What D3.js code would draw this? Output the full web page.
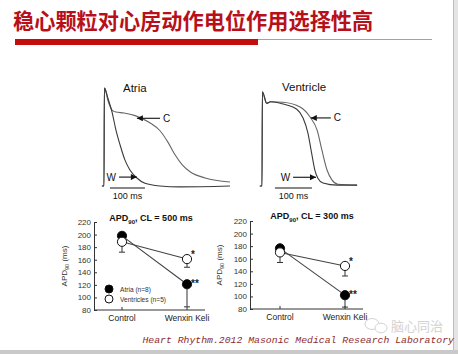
<!DOCTYPE html>
<html><head><meta charset="utf-8">
<script src="https://cdn.jsdelivr.net/npm/d3@7"></script>
<style>html,body{margin:0;padding:0;background:#fff;overflow:hidden}</style>
</head><body>
<svg id="c" width="458" height="354"></svg>
<script>
// ---------- data ----------
const titleText = "稳心颗粒对心房动作电位作用选择性高";
const footerText = "Heart Rhythm.2012 Masonic Medical Research Laboratory";
const watermarkText = "脑心同治";

// action potential traces: [time ms, voltage mV]
const atriaW = [[-6,-80],[0,-80],[1,30],[3,29],[11,18.8],[23,3],[34,-17],[46,-34],[60,-51],[74,-62],[94,-71],[117,-77],[160,-80],[217,-81],[360,-80]];
const atriaC = [[-6,-80],[0,-80],[1,30],[3,29],[11,16.5],[23,5.3],[34,3],[57,2],[89,-1],[131,-9],[160,-18],[183,-31],[203,-45],[223,-56],[246,-64],[289,-71],[360,-75.5]];
const ventW = [[-6,-80],[0,-80],[1,28],[12.7,14.8],[23.5,16.6],[57,14],[94,8],[111,-2],[124,-19],[134,-42],[143,-62],[151,-71],[165,-76.5],[203,-79],[257,-79]];
const ventC = [[-6,-80],[0,-80],[1,28],[12.7,14.8],[23.5,16.6],[57,16],[103,10.5],[130,-1],[149,-16],[162,-39],[176,-62],[189,-73],[205,-78],[257,-79]];

// APD90 summary
const groups = ["Control", "Wenxin Keli"];
const yTicks = [80,100,120,140,160,180,200,220];
const atria500 = [198, 121], atria500Err = [3, 36];
const vent500  = [188.5, 161], vent500Err = [16.5, 13];
const atria300 = [176.5, 102], atria300Err = [3, 19];
const vent300  = [170, 148.5], vent300Err = [16, 16];
const legendLabels = ["Atria (n=8)", "Ventricles (n=5)"];

// ---------- drawing ----------
const svg = d3.select("#c");
const SANS = "'Liberation Sans', Arial, sans-serif";

// slide frame
svg.append("rect").attr("x",453).attr("y",0).attr("width",5).attr("height",354).attr("fill","#e4e4e4");
svg.append("line").attr("x1",453.5).attr("x2",453.5).attr("y1",0).attr("y2",354).attr("stroke","#bdbdbd");
svg.append("rect").attr("x",0).attr("y",350).attr("width",458).attr("height",4).attr("fill","#c9c9c9");

// title
svg.append("text").attr("x",13).attr("y",29)
  .attr("font-family","'Noto Sans CJK SC', sans-serif").attr("font-weight","bold")
  .attr("font-size",21.2).attr("fill","#b8101a").text(titleText);
svg.append("rect").attr("x",15).attr("y",39).attr("width",243).attr("height",6).attr("fill","#c40c0c");
svg.append("line").attr("x1",258).attr("x2",432).attr("y1",39.5).attr("y2",39.5).attr("stroke","#d98b8b").attr("stroke-width",1);

// arrow marker
const defs = svg.append("defs");
defs.append("marker").attr("id","ah").attr("viewBox","0 0 10 10").attr("refX",10).attr("refY",5)
  .attr("markerWidth",7).attr("markerHeight",6).attr("markerUnits","userSpaceOnUse").attr("orient","auto")
  .append("path").attr("d","M0,0L10,5L0,10Z").attr("fill","#111");

function drawTrace(cfg){
  const x = d3.scaleLinear().domain([0,100]).range(cfg.xr);
  const y = d3.scaleLinear().domain([-80,30]).range(cfg.yr);
  const line = d3.line().x(d=>x(d[0])).y(d=>y(d[1])).curve(d3.curveMonotoneX);
  const g = svg.append("g");
  g.append("path").attr("d",line(cfg.c)).attr("fill","none").attr("stroke","#666").attr("stroke-width",1.1);
  g.append("path").attr("d",line(cfg.w)).attr("fill","none").attr("stroke","#3a3a3a").attr("stroke-width",1.1);
  g.append("text").attr("x",cfg.labelX).attr("y",cfg.labelY).attr("font-family",SANS).attr("font-size",11.5)
    .attr("fill","#111").text(cfg.label);
  // C arrow
  g.append("line").attr("x1",x(cfg.cArrow[0])).attr("x2",x(cfg.cArrow[1])).attr("y1",y(cfg.cArrow[2])).attr("y2",y(cfg.cArrow[2]))
    .attr("stroke","#111").attr("stroke-width",1.1).attr("marker-end","url(#ah)");
  g.append("text").attr("x",x(cfg.cArrow[0])+3).attr("y",y(cfg.cArrow[2])+3.5).attr("font-family",SANS).attr("font-size",10)
    .attr("fill","#111").text("C");
  // W arrow
  g.append("line").attr("x1",x(cfg.wArrow[0])).attr("x2",x(cfg.wArrow[1])).attr("y1",y(cfg.wArrow[2])).attr("y2",y(cfg.wArrow[2]))
    .attr("stroke","#111").attr("stroke-width",1.1).attr("marker-end","url(#ah)");
  g.append("text").attr("x",x(cfg.wArrow[0])-3).attr("y",y(cfg.wArrow[2])+3.5).attr("text-anchor","end")
    .attr("font-family",SANS).attr("font-size",10).attr("fill","#111").text("W");
  // scale bar 100 ms
  g.append("line").attr("x1",x(cfg.bar)).attr("x2",x(cfg.bar+100)).attr("y1",188).attr("y2",188).attr("stroke","#111").attr("stroke-width",1);
  g.append("text").attr("x",(x(cfg.bar)+x(cfg.bar+100))/2).attr("y",199).attr("text-anchor","middle")
    .attr("font-family",SANS).attr("font-size",9).attr("fill","#111").text("100 ms");
}

drawTrace({xr:[104,139], yr:[186,88], c:atriaC, w:atriaW, label:"Atria", labelX:123, labelY:92,
  cArrow:[160,94,-4], wArrow:[43,94,-70], bar:17});
drawTrace({xr:[262,299], yr:[186,90], c:ventC, w:ventW, label:"Ventricle", labelX:282, labelY:91,
  cArrow:[186,132,-2], wArrow:[84,146,-70], bar:35});

function drawChart(cfg){
  const y = d3.scaleLinear().domain([80,220]).range(cfg.yr);
  const x = d3.scalePoint().domain(groups).range(cfg.xr);
  const g = svg.append("g");
  // y axis
  const ax = g.append("g").attr("transform",`translate(${cfg.ax},0)`)
    .call(d3.axisLeft(y).tickValues(yTicks).tickSize(-3).tickSizeOuter(0).tickPadding(3));
  ax.selectAll("text").attr("font-family",SANS).attr("font-size",8).attr("fill","#333");
  ax.selectAll("line,path").attr("stroke","#333").attr("stroke-width",1);
  // x axis
  const by = y(80);
  g.append("line").attr("x1",cfg.ax).attr("x2",cfg.xr[1]+18).attr("y1",by).attr("y2",by).attr("stroke","#333").attr("stroke-width",1);
  groups.forEach(k=>{
    g.append("line").attr("x1",x(k)).attr("x2",x(k)).attr("y1",by).attr("y2",by-3).attr("stroke","#333");
    g.append("text").attr("x",x(k)).attr("y",by+11).attr("text-anchor","middle").attr("font-family",SANS)
      .attr("font-size",8.5).attr("fill","#222").text(k);
  });
  // y label
  const yl = g.append("text").attr("transform",`translate(${cfg.ylx},${cfg.yly}) rotate(-90)`).attr("text-anchor","middle")
    .attr("font-family",SANS).attr("font-size",8).attr("fill","#333");
  yl.append("tspan").text("APD");
  yl.append("tspan").attr("dy",2).attr("font-size",5.5).text("90");
  yl.append("tspan").attr("dy",-2).text(" (ms)");
  // title
  const t = g.append("text").attr("x",cfg.tx).attr("y",cfg.ty).attr("text-anchor","middle")
    .attr("font-family",SANS).attr("font-size",9).attr("font-weight","bold").attr("fill","#111");
  t.append("tspan").text("APD");
  t.append("tspan").attr("dy",2.5).attr("font-size",6).text("90");
  t.append("tspan").attr("dy",-2.5).text(", CL = " + cfg.cl + " ms");

  const series = [{v:cfg.atria, e:cfg.atriaErr, fill:"#000"}, {v:cfg.vent, e:cfg.ventErr, fill:"#fff"}];
  // error bars
  series.forEach(s=>{
    groups.forEach((k,i)=>{
      const yb = y(s.v[i]-s.e[i]);
      g.append("line").attr("x1",x(k)).attr("x2",x(k)).attr("y1",y(s.v[i])).attr("y2",yb).attr("stroke","#333").attr("stroke-width",1);
      g.append("line").attr("x1",x(k)-3).attr("x2",x(k)+3).attr("y1",yb).attr("y2",yb).attr("stroke","#333").attr("stroke-width",1);
    });
  });
  // connecting lines
  const line = d3.line().x((d,i)=>x(groups[i])).y(d=>y(d));
  series.forEach(s=>{
    g.append("path").attr("d",line(s.v)).attr("fill","none").attr("stroke","#444").attr("stroke-width",1.1);
  });
  // markers
  series.forEach(s=>{
    groups.forEach((k,i)=>{
      g.append("circle").attr("cx",x(k)).attr("cy",y(s.v[i])).attr("r",4.6).attr("fill",s.fill)
        .attr("stroke","#111").attr("stroke-width",1);
    });
  });
  // significance stars
  const wx = x(groups[1]);
  g.append("text").attr("x",wx+4).attr("y",y(cfg.vent[1])-1).attr("font-family",SANS).attr("font-size",10)
    .attr("font-weight","bold").attr("fill","#222").text("*");
  g.append("text").attr("x",wx+4).attr("y",y(cfg.atria[1])+3).attr("font-family",SANS).attr("font-size",10)
    .attr("font-weight","bold").attr("fill","#222").text("**");
  // legend
  if (cfg.legend){
    legendLabels.forEach((lab,i)=>{
      const ly = cfg.legend[1] + i*10;
      g.append("circle").attr("cx",cfg.legend[0]).attr("cy",ly).attr("r",4).attr("fill",i===0?"#000":"#fff")
        .attr("stroke","#111").attr("stroke-width",1);
      g.append("text").attr("x",cfg.legend[0]+11).attr("y",ly+2.5).attr("font-family",SANS).attr("font-size",6.6)
        .attr("fill","#333").text(lab);
    });
  }
}

drawChart({ax:94, yr:[310,222], xr:[122,187], ylx:67, yly:266, tx:151, ty:221, cl:500,
  atria:atria500, atriaErr:atria500Err, vent:vent500, ventErr:vent500Err, legend:[109,289]});
drawChart({ax:250, yr:[309,221], xr:[280,345], ylx:222, yly:265, tx:312, ty:219, cl:300,
  atria:atria300, atriaErr:atria300Err, vent:vent300, ventErr:vent300Err, legend:null});

// watermark
const wm = svg.append("g").attr("opacity",0.85);
wm.append("ellipse").attr("cx",372).attr("cy",324).attr("rx",7).attr("ry",5.5).attr("fill","none").attr("stroke","#cccccc").attr("stroke-width",1);
wm.append("ellipse").attr("cx",381).attr("cy",328).attr("rx",6).attr("ry",4.8).attr("fill","#fff").attr("stroke","#cccccc").attr("stroke-width",1);
wm.append("text").attr("x",391).attr("y",331).attr("font-family","'Noto Sans CJK SC', sans-serif").attr("font-size",13)
  .attr("fill","#cccccc").text(watermarkText);

// footer
svg.append("text").attr("x",454).attr("y",343).attr("text-anchor","end")
  .attr("font-family","'Liberation Mono', 'DejaVu Sans Mono', monospace").attr("font-style","italic")
  .attr("font-size",9.8).attr("fill","#8f2a2a").text(footerText);
</script>
</body></html>
